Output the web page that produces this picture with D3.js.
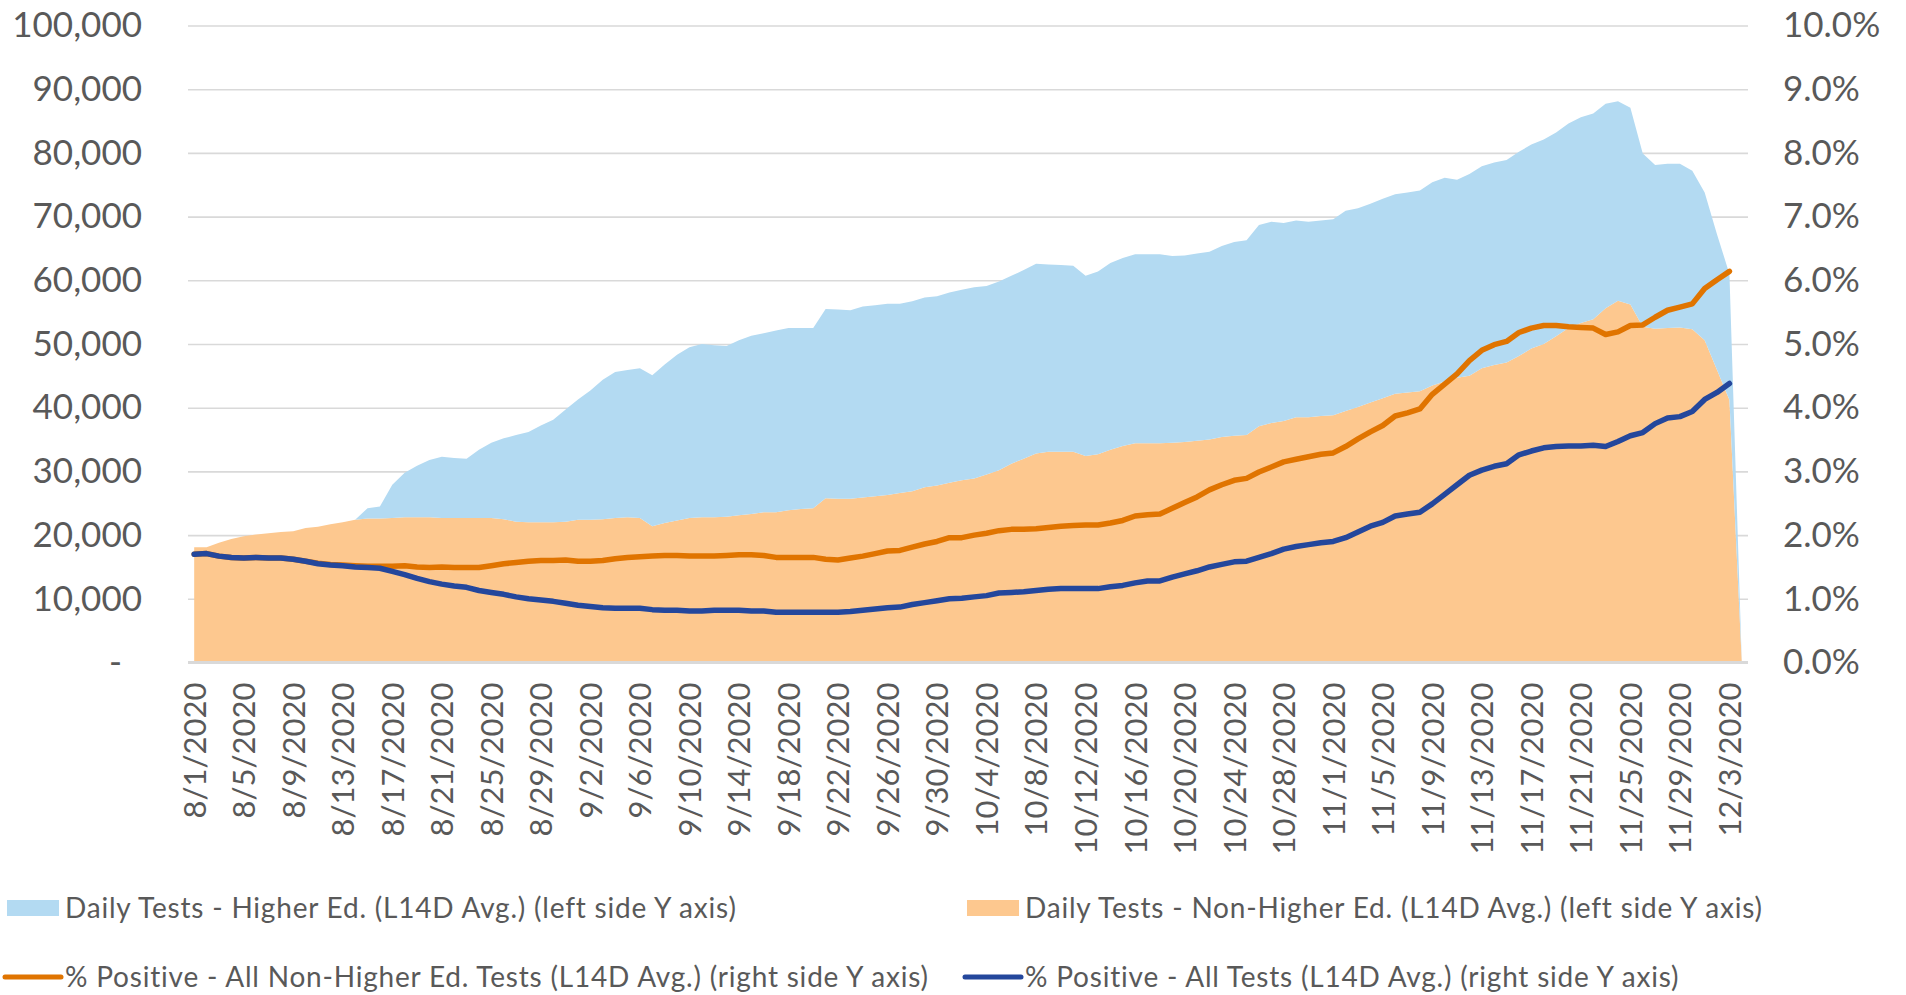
<!DOCTYPE html>
<html>
<head>
<meta charset="utf-8">
<script src="https://cdn.jsdelivr.net/npm/d3@7"></script>
<style>
  body { margin: 0; background: #fff; }
  svg text { font-family: "Century Gothic", Lato, sans-serif; fill: #595959; }
</style>
</head>
<body>
<div id="chart"></div>
<script>
// Categories: one per day, 8/1/2020 to 12/4/2020
const dates = d3.timeDay.range(new Date(2020, 7, 1), new Date(2020, 11, 5));

// Daily tests, L14D average, in thousands (left axis)
const nonHigherEd = [
  18.1, 18.1, 18.8, 19.4, 19.8, 20.1, 20.3, 20.5, 20.6, 21.1,
  21.3, 21.7, 22.0, 22.4, 22.6, 22.6, 22.7, 22.8, 22.8, 22.8,
  22.7, 22.7, 22.7, 22.7, 22.7, 22.5, 22.1, 22.0, 22.0, 22.0,
  22.1, 22.4, 22.4, 22.5, 22.7, 22.8, 22.7, 21.4, 21.9, 22.3,
  22.7, 22.8, 22.8, 22.9, 23.1, 23.3, 23.6, 23.6, 23.9, 24.1,
  24.2, 25.8, 25.7, 25.7, 25.9, 26.1, 26.3, 26.6, 26.9, 27.5,
  27.8, 28.2, 28.6, 28.9, 29.5, 30.2, 31.2, 32.0, 32.8, 33.1,
  33.1, 33.1, 32.4, 32.7, 33.4, 34.0, 34.4, 34.4, 34.4, 34.5,
  34.6, 34.8, 35.0, 35.4, 35.6, 35.7, 37.1, 37.6, 37.9, 38.5,
  38.5, 38.7, 38.8, 39.5, 40.1, 40.8, 41.5, 42.2, 42.4, 42.6,
  43.5, 44.1, 44.7, 45.0, 46.2, 46.7, 47.1, 48.1, 49.3, 50.0,
  51.2, 52.5, 53.3, 53.9, 55.6, 56.8, 56.2, 52.7, 52.4, 52.5,
  52.6, 52.3, 50.6, 45.9, 41.2, 0
];
const higherEd = [
  0, 0, 0, 0, 0, 0, 0, 0, 0, 0,
  0, 0, 0, 0, 1.6, 1.9, 5.2, 7.0, 8.1, 9.0,
  9.6, 9.4, 9.3, 10.7, 11.8, 12.7, 13.6, 14.2, 15.2, 16.1,
  17.6, 18.9, 20.3, 21.9, 22.9, 23.1, 23.5, 23.7, 24.9, 26.0,
  26.8, 27.2, 27.0, 26.8, 27.5, 28.0, 28.1, 28.5, 28.6, 28.4,
  28.3, 29.7, 29.7, 29.6, 30.0, 30.0, 30.0, 29.7, 29.8, 29.8,
  29.7, 29.9, 29.9, 30.0, 29.6, 29.6, 29.5, 29.6, 29.8, 29.4,
  29.3, 29.2, 28.3, 28.7, 29.3, 29.5, 29.7, 29.7, 29.7, 29.3,
  29.3, 29.4, 29.5, 30.0, 30.4, 30.6, 31.6, 31.6, 31.1, 30.9,
  30.7, 30.7, 30.8, 31.4, 31.2, 31.2, 31.3, 31.3, 31.4, 31.5,
  31.9, 32.0, 31.1, 31.7, 31.7, 31.8, 31.8, 32.1, 32.0, 32.1,
  32.0, 32.1, 32.3, 32.3, 32.1, 31.3, 30.9, 27.2, 25.7, 25.8,
  25.7, 24.9, 23.2, 21.3, 19.8, 0
];

// % positive, L14D average (right axis)
const pctNonHigherEd = [
  1.70, 1.71, 1.67, 1.65, 1.64, 1.65, 1.64, 1.64, 1.62, 1.59,
  1.56, 1.54, 1.53, 1.52, 1.51, 1.51, 1.51, 1.52, 1.50, 1.49,
  1.50, 1.49, 1.49, 1.49, 1.52, 1.55, 1.57, 1.59, 1.60, 1.60,
  1.61, 1.59, 1.59, 1.60, 1.63, 1.65, 1.66, 1.67, 1.68, 1.68,
  1.67, 1.67, 1.67, 1.68, 1.69, 1.69, 1.68, 1.65, 1.65, 1.65,
  1.65, 1.62, 1.61, 1.64, 1.67, 1.71, 1.75, 1.76, 1.81, 1.86,
  1.90, 1.96, 1.96, 2.00, 2.03, 2.07, 2.09, 2.09, 2.10, 2.12,
  2.14, 2.15, 2.16, 2.16, 2.19, 2.23, 2.30, 2.32, 2.33, 2.42,
  2.51, 2.60, 2.71, 2.79, 2.86, 2.89, 2.99, 3.07, 3.15, 3.19,
  3.23, 3.27, 3.29, 3.39, 3.51, 3.62, 3.72, 3.87, 3.92, 3.98,
  4.21, 4.37, 4.53, 4.74, 4.90, 4.99, 5.04, 5.18, 5.25, 5.29,
  5.29, 5.27, 5.26, 5.25, 5.15, 5.19, 5.29, 5.30, 5.42, 5.53,
  5.58, 5.63, 5.87, 6.01, 6.14, null
];
const pctAllTests = [
  1.70, 1.71, 1.67, 1.65, 1.64, 1.65, 1.64, 1.64, 1.62, 1.59,
  1.55, 1.53, 1.52, 1.50, 1.49, 1.48, 1.43, 1.38, 1.32, 1.27,
  1.23, 1.20, 1.18, 1.13, 1.10, 1.07, 1.03, 1.00, 0.98, 0.96,
  0.93, 0.90, 0.88, 0.86, 0.85, 0.85, 0.85, 0.83, 0.82, 0.82,
  0.81, 0.81, 0.82, 0.82, 0.82, 0.81, 0.81, 0.79, 0.79, 0.79,
  0.79, 0.79, 0.79, 0.80, 0.82, 0.84, 0.86, 0.87, 0.91, 0.94,
  0.97, 1.00, 1.01, 1.03, 1.05, 1.09, 1.10, 1.11, 1.13, 1.15,
  1.16, 1.16, 1.16, 1.16, 1.19, 1.21, 1.25, 1.28, 1.28, 1.34,
  1.39, 1.44, 1.50, 1.54, 1.58, 1.59, 1.65, 1.71, 1.78, 1.82,
  1.85, 1.88, 1.90, 1.96, 2.05, 2.14, 2.20, 2.30, 2.33, 2.36,
  2.49, 2.64, 2.79, 2.94, 3.02, 3.08, 3.12, 3.26, 3.32, 3.37,
  3.39, 3.40, 3.40, 3.41, 3.39, 3.47, 3.56, 3.61, 3.75, 3.84,
  3.86, 3.94, 4.13, 4.24, 4.38, null
];

const leftTicks = d3.range(0, 101, 10);
const rightTicks = d3.range(0, 10.1, 1);

const legendItems = [
  { label: "Daily Tests - Higher Ed. (L14D Avg.) (left side Y axis)", kind: "area", color: "#b3daf2" },
  { label: "Daily Tests - Non-Higher Ed. (L14D Avg.) (left side Y axis)", kind: "area", color: "#fdc88f" },
  { label: "% Positive - All Non-Higher Ed. Tests (L14D Avg.) (right side Y axis)", kind: "line", color: "#e07400" },
  { label: "% Positive - All Tests (L14D Avg.) (right side Y axis)", kind: "line", color: "#24479c" }
];

const width = 1906;
const height = 995;
const plot = { left: 188, right: 1748, top: 25.5, bottom: 662.5 };

const svg = d3.select("#chart")
  .append("svg")
  .attr("width", width)
  .attr("height", height);

const x = d3.scalePoint()
  .domain(d3.range(dates.length))
  .range([plot.left, plot.right])
  .padding(0.5);

const yLeft = d3.scaleLinear().domain([0, 100]).range([plot.bottom, plot.top]);
const yRight = d3.scaleLinear().domain([0, 10]).range([plot.bottom, plot.top]);

// Gridlines
svg.append("g")
  .attr("transform", `translate(${plot.left},0)`)
  .call(d3.axisLeft(yLeft).tickValues(leftTicks.slice(1)).tickSize(-(plot.right - plot.left)).tickFormat(""))
  .call(g => g.select(".domain").remove())
  .call(g => g.selectAll("line").attr("stroke", "#d9d9d9").attr("stroke-width", 1.6));

// Stacked areas
const rows = dates.map((d, i) => ({ i, nonHigher: nonHigherEd[i], higher: higherEd[i] }));
const stacked = d3.stack().keys(["nonHigher", "higher"])(rows);

const area = d3.area()
  .x(d => x(d.data.i))
  .y0(d => yLeft(d[0]))
  .y1(d => yLeft(d[1]));

svg.append("g")
  .selectAll("path")
  .data(stacked)
  .join("path")
  .attr("fill", (d, k) => k === 0 ? legendItems[1].color : legendItems[0].color)
  .attr("d", area);

// Category axis line
svg.append("line")
  .attr("x1", plot.left).attr("x2", plot.right)
  .attr("y1", yLeft(0)).attr("y2", yLeft(0))
  .attr("stroke", "#d9d9d9")
  .attr("stroke-width", 3);

// Percent lines
const line = d3.line()
  .defined(d => d != null)
  .x((d, i) => x(i))
  .y(d => yRight(d));

[[pctNonHigherEd, legendItems[2].color], [pctAllTests, legendItems[3].color]].forEach(([vals, color]) => {
  svg.append("path")
    .datum(vals)
    .attr("fill", "none")
    .attr("stroke", color)
    .attr("stroke-width", 5.5)
    .attr("stroke-linejoin", "round")
    .attr("stroke-linecap", "round")
    .attr("d", line);
});

// Left axis labels
svg.append("g")
  .attr("transform", `translate(${plot.left - 46},0)`)
  .call(d3.axisLeft(yLeft).tickValues(leftTicks).tickSize(0)
    .tickFormat(d => d === 0 ? "-" : d3.format(",")(d * 1000)))
  .call(g => g.select(".domain").remove())
  .call(g => g.selectAll("text")
    .attr("font-size", 35)
    .attr("x", 0)
    .attr("dx", d => d === 0 ? -20 : 0));

// Right axis labels
svg.append("g")
  .attr("transform", `translate(${plot.right + 35},0)`)
  .call(d3.axisRight(yRight).tickValues(rightTicks).tickSize(0)
    .tickFormat(d => d.toFixed(1) + "%"))
  .call(g => g.select(".domain").remove())
  .call(g => g.selectAll("text").attr("font-size", 35).attr("x", 0));

// Date labels, every 4th day, rotated
const fmt = d3.timeFormat("%-m/%-d/%Y");
svg.append("g")
  .attr("transform", `translate(0,${plot.bottom + 20})`)
  .call(d3.axisBottom(x).tickValues(d3.range(0, dates.length, 4)).tickSize(0)
    .tickFormat(i => fmt(dates[i])))
  .call(g => g.select(".domain").remove())
  .call(g => g.selectAll("text")
    .attr("font-size", 31)
    .attr("text-anchor", "end")
    .attr("dy", "0.35em")
    .attr("y", 0)
    .attr("transform", "rotate(-90)"));

// Legend
const legendPos = [[7, 908], [967, 908], [7, 977], [967, 977]];
const legend = svg.append("g")
  .selectAll("g")
  .data(legendItems)
  .join("g")
  .attr("transform", (d, k) => `translate(${legendPos[k][0]},${legendPos[k][1]})`);

legend.filter(d => d.kind === "area")
  .append("rect")
  .attr("x", 0).attr("y", -8)
  .attr("width", 52).attr("height", 16)
  .attr("fill", d => d.color);

legend.filter(d => d.kind === "line")
  .append("line")
  .attr("x1", -2).attr("x2", 54)
  .attr("stroke", d => d.color)
  .attr("stroke-width", 5)
  .attr("stroke-linecap", "round");

legend.append("text")
  .attr("x", 58)
  .attr("dy", "0.35em")
  .attr("font-size", 28)
  .attr("letter-spacing", 0.8)
  .text(d => d.label);
</script>
</body>
</html>
